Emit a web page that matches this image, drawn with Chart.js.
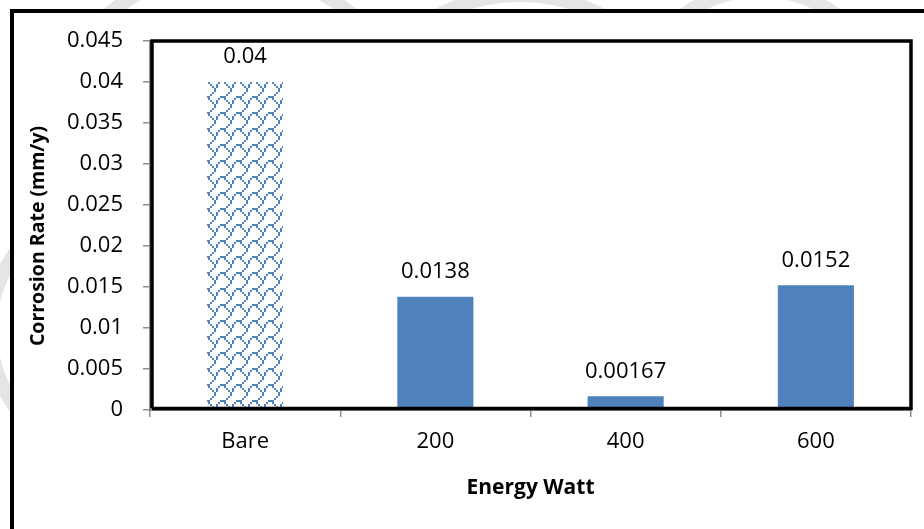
<!DOCTYPE html>
<html>
<head>
<meta charset="utf-8">
<script src="https://cdn.jsdelivr.net/npm/chart.js@4.4.0/dist/chart.umd.min.js"></script>
<style>
  html, body { margin: 0; padding: 0; background: #fff; }
  #wrap { width: 924px; height: 529px; }
</style>
</head>
<body>
<div id="wrap"><canvas id="Chart" width="924" height="529"></canvas></div>
<script>
'use strict';
// données du graphique
const categories = ['Bare', '200', '400', '600'];
const corrosionRate = [0.04, 0.0138, 0.00167, 0.0152];
const valueLabels = ['0.04', '0.0138', '0.00167', '0.0152'];
const yTicks = [0, 0.005, 0.01, 0.015, 0.02, 0.025, 0.03, 0.035, 0.04, 0.045];
const xTitle = 'Energy Watt';
const yTitle = 'Corrosion Rate (mm/y)';

const BLUE = '#4f81bd';
const FONT = "'Open Sans', sans-serif";

// motif "écailles" pour la barre Bare (8x8 bits, pixels doublés)
function creerMotif() {
    const bits = [0xc1, 0x21, 0x12, 0x14, 0x08, 0x08, 0x04, 0x02];
    const c = document.createElement('canvas');
    c.width = 16; c.height = 16;
    const g = c.getContext('2d');
    g.fillStyle = '#fff';
    g.fillRect(0, 0, 16, 16);
    g.fillStyle = BLUE;
    for (let y = 0; y < 8; y++) {
        for (let x = 0; x < 8; x++) {
            if (bits[y] & (1 << x)) g.fillRect(x * 2, y * 2, 2, 2);
        }
    }
    return g.createPattern(c, 'repeat');
}

const ctx = document.getElementById('Chart').getContext('2d');
const motif = creerMotif();

// fond, filigrane, cadre extérieur, bordure, étiquettes et titres
const cadrePlugin = {
    id: 'cadre',
    beforeDraw(chart) {
        const g = chart.ctx;
        g.save();
        g.fillStyle = '#fff';
        g.fillRect(0, 0, chart.width, chart.height);
        // filigrane clair hors du cadre
        g.beginPath();
        g.rect(0, 0, chart.width, 10);
        g.rect(0, 0, 10, chart.height);
        g.clip();
        g.strokeStyle = 'rgba(0,0,0,0.10)';
        g.lineWidth = 14;
        [[230, 160, 190], [520, 170, 175], [760, 120, 130], [120, 330, 130]].forEach(([x, y, r]) => {
            g.beginPath();
            g.arc(x, y, r, 0, Math.PI * 2);
            g.stroke();
        });
        g.restore();
        g.save();
        g.strokeStyle = '#000';
        g.lineWidth = 4;
        g.strokeRect(12, 11, chart.width + 20, chart.height + 20);
        g.restore();
    },
    afterDatasetsDraw(chart) {
        const g = chart.ctx;
        const a = chart.chartArea;
        g.save();
        // bordure noire de la zone de tracé
        g.strokeStyle = '#000';
        g.lineWidth = 3.5;
        g.beginPath();
        g.moveTo(a.left + 2, a.bottom - 1.5);
        g.lineTo(a.left + 2, a.top);
        g.lineTo(a.right, a.top);
        g.lineTo(a.right, a.bottom - 1.5);
        g.lineTo(a.left + 2, a.bottom - 1.5);
        g.stroke();
        // étiquettes de valeurs
        const meta = chart.getDatasetMeta(0);
        g.fillStyle = '#000';
        g.font = '22px ' + FONT;
        g.textAlign = 'center';
        g.textBaseline = 'middle';
        meta.data.forEach((bar, i) => {
            g.fillText(valueLabels[i], bar.x, bar.y - 25);
        });
        // titres des axes
        g.font = 'bold 21px ' + FONT;
        g.fillText(xTitle, (a.left + a.right) / 2, 488);
        g.translate(38, 236);
        g.rotate(-Math.PI / 2);
        g.font = 'bold 19.5px ' + FONT;
        g.fillText(yTitle, 0, 0);
        g.restore();
    }
};

new Chart(ctx, {
    type: 'bar',
    data: {
        labels: categories,
        datasets: [{
            label: 'Corrosion Rate',
            data: corrosionRate,
            backgroundColor: [motif, BLUE, BLUE, BLUE],
            borderWidth: 0,
            categoryPercentage: 1,
            barPercentage: 0.4
        }]
    },
    options: {
        responsive: false,
        animation: false,
        events: [],
        layout: { padding: { left: 0, top: 41, right: 13, bottom: 0 } },
        plugins: { legend: { display: false }, tooltip: { enabled: false } },
        scales: {
            x: {
                offset: true,
                afterFit: s => { s.height = 119; },
                grid: { display: true, drawOnChartArea: false, offset: true, color: '#8c8c8c', tickLength: 7, lineWidth: 1.5 },
                border: { display: true, color: '#8c8c8c', width: 2 },
                ticks: { color: '#000', font: { family: FONT, size: 22 }, padding: 12 }
            },
            y: {
                min: 0,
                max: 0.045,
                afterFit: s => { s.width = 150; },
                afterBuildTicks: s => { s.ticks = yTicks.map(v => ({ value: v })); },
                grid: { display: true, drawOnChartArea: false, color: '#8c8c8c', tickLength: 7, lineWidth: 1.5 },
                border: { display: true, color: '#8c8c8c', width: 2 },
                ticks: {
                    color: '#000',
                    font: { family: FONT, size: 22 },
                    padding: 20,
                    callback: v => String(Number(v.toFixed(3)))
                }
            }
        }
    },
    plugins: [cadrePlugin]
});
</script>
</body>
</html>
